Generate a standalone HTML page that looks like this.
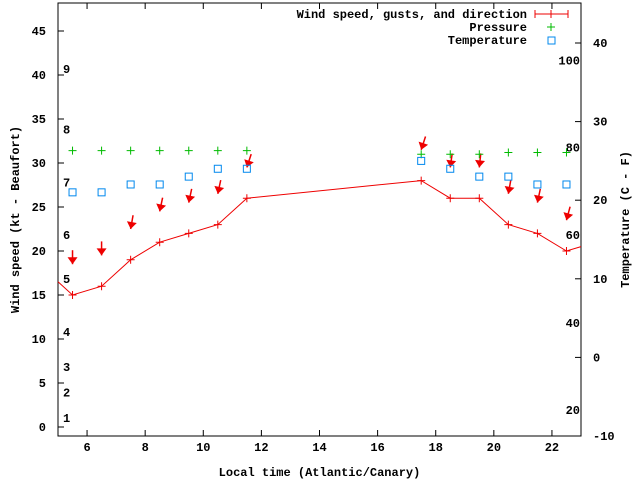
<!DOCTYPE html>
<html><head><meta charset="utf-8"><style>
body{margin:0;background:#fff}
svg text{font-family:"Liberation Mono","DejaVu Sans Mono",monospace;font-size:12px;font-weight:bold;fill:#000}
</style></head><body>
<svg id="c" width="640" height="480" viewBox="0 0 640 480" xmlns="http://www.w3.org/2000/svg"></svg>
<script>
const hours = [5.5,6.5,7.5,8.5,9.5,10.5,11.5,17.5,18.5,19.5,20.5,21.5,22.5];
const windSpeed = [15,16,19,21,22,23,26,28,26,26,23,22,20];
const gusts = [18.5,19.5,22.5,24.5,25.5,26.5,29.5,31.5,29.5,29.5,26.5,25.5,23.5];
const windDir = [0,0,10,12,12,12,18,18,8,6,10,12,15];
const pressure = [31.4,31.4,31.4,31.4,31.4,31.4,31.4,31,31,31,31.2,31.2,31.2];
const tempC = [21,21,22,22,23,24,24,25,24,23,23,22,22];
const lineHours = [5,5.5,6.5,7.5,8.5,9.5,10.5,11.5,17.5,18.5,19.5,20.5,21.5,22.5,23];
const lineWind = [16.5,15,16,19,21,22,23,26,28,26,26,23,22,20,20.5];
const xTicks = [6,8,10,12,14,16,18,20,22];
const yTicks = [0,5,10,15,20,25,30,35,40,45];
const y2Ticks = [-10,0,10,20,30,40];
const beaufortLabels = ["1","2","3","4","5","6","7","8","9"];
const beaufortKt = [1,3.9,6.8,10.8,16.8,21.8,27.8,33.8,40.7];
const fLabels = ["20","40","60","80","100"];
const fDegC = [-6.7,4.4,15.6,26.7,37.8];

const L=58,R=581,T=3,B=436;
const X=h=>L+(h-5)*(R-L)/18;
const Y=v=>427-8.8*v;
const Y2=c=>436-(c+10)*7.86;
const svg=document.getElementById('c');
const NS='http://www.w3.org/2000/svg';
function mk(tag,attrs,parent){const e=document.createElementNS(NS,tag);for(const k in attrs)e.setAttribute(k,attrs[k]);(parent||svg).appendChild(e);return e;}

const frame=mk('rect',{x:L,y:T,width:R-L,height:B-T,fill:'none',stroke:'#000','stroke-width':1});



xTicks.forEach(t=>{const x=X(t);
 const a=mk('path',{d:`M${x},${B}v-6M${x},${T}v6`,stroke:'#000'});
 
 
 const tx=mk('text',{x:x,y:B+15,'text-anchor':'middle'});tx.textContent=t;
 
 
});
yTicks.forEach(t=>{const y=Y(t);
 const a=mk('path',{d:`M${L},${y}h6`,stroke:'#000'});
 
 
 const tx=mk('text',{x:L-12,y:y+4,'text-anchor':'end'});tx.textContent=t;
 
 
});
y2Ticks.forEach(t=>{const y=Y2(t);
 const a=mk('path',{d:`M${R},${y}h-6`,stroke:'#000'});
 
 
 const tx=mk('text',{x:R+12,y:y+4,'text-anchor':'start'});tx.textContent=t;
 
 
});
beaufortLabels.forEach((s,i)=>{const tx=mk('text',{x:63,y:Y(beaufortKt[i])+4});tx.textContent=s;
 
 
});
fLabels.forEach((s,i)=>{const tx=mk('text',{x:580,y:Y2(fDegC[i])+4,'text-anchor':'end'});tx.textContent=s;
 
 
});

const xt=mk('text',{x:(L+R)/2,y:476,'text-anchor':'middle'});xt.textContent='Local time (Atlantic/Canary)';


const yt=mk('text',{x:0,y:0,'text-anchor':'middle',transform:`translate(19,${(T+B)/2}) rotate(-90)`});yt.textContent='Wind speed (kt - Beaufort)';


const y2t=mk('text',{x:0,y:0,'text-anchor':'middle',transform:`translate(629,${(T+B)/2}) rotate(-90)`});y2t.textContent='Temperature (C - F)';



const clipG=mk('g',{});
const pl=mk('polyline',{points:lineHours.map((h,i)=>X(h)+','+Y(lineWind[i])).join(' '),fill:'none',stroke:'#e00',"stroke-width":1},clipG);


hours.forEach((h,i)=>{const x=X(h),y=Y(windSpeed[i]);
 const p=mk('path',{d:`M${x-4},${y}h8M${x},${y-4}v8`,stroke:'#e00'});
 
 
});
hours.forEach((h,i)=>{const x=X(h),y=Y(gusts[i]);const a=windDir[i]*Math.PI/180;
 const tx=x+14*Math.sin(a),ty=y-14*Math.cos(a);
 const g=mk('g',{});
 
 
 mk('line',{x1:tx,y1:ty,x2:x,y2:y,stroke:'#e00','stroke-width':1.5},g);
 mk('polygon',{points:'0,0 -5,-7 5,-7',fill:'#e00',transform:`translate(${x},${y}) rotate(${windDir[i]})`},g);
});
hours.forEach((h,i)=>{const x=X(h),y=Y(pressure[i]);
 const p=mk('path',{d:`M${x-4},${y}h8M${x},${y-4}v8`,stroke:'#0b0'});
 
 
});
hours.forEach((h,i)=>{const x=X(h),y=Y2(tempC[i]);
 const p=mk('rect',{x:x-3.5,y:y-3.5,width:7,height:7,fill:'none',stroke:'#08e','stroke-width':1});
 
 
});

const leg=mk('g',{});


[['Wind speed, gusts, and direction',14],['Pressure',27],['Temperature',40]].forEach(([s,y])=>{
 const t=mk('text',{x:527,y:y+4,'text-anchor':'end'},leg);t.textContent=s;
 
 
});
mk('path',{d:'M535,14h33M535,10v8M568,10v8M551,10v8',stroke:'#e00'},leg);
mk('path',{d:'M547,27h8M551,23v8',stroke:'#0b0'},leg);
mk('rect',{x:548,y:37,width:7,height:7,fill:'none',stroke:'#08e'},leg);
</script>
</body></html>
